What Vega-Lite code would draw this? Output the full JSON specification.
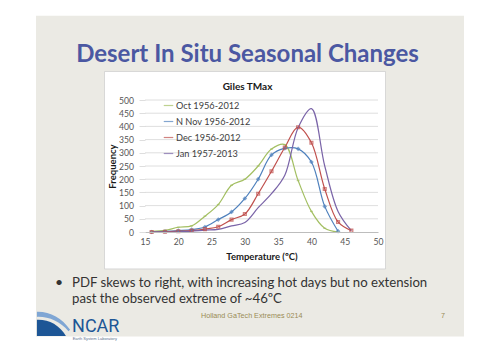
{
  "$schema": "https://vega.github.io/schema/vega-lite/v6.json",
  "width": 233,
  "height": 132,
  "autosize": {"type": "none"},
  "padding": {"left": 145, "top": 100, "right": 122, "bottom": 121},
  "background": "#ffffff",
  "title": {
    "text": "Desert In Situ Seasonal Changes",
    "subtitle": "Giles TMax",
    "font": "Lato",
    "fontSize": 24,
    "fontWeight": "bold",
    "color": "#4b58a2",
    "subtitleFont": "Lato",
    "subtitleFontSize": 10,
    "subtitleFontWeight": "bold",
    "subtitleColor": "#1a1a1a",
    "subtitlePadding": 15,
    "offset": -76,
    "frame": "group",
    "dx": -14,
    "anchor": "middle"
  },
  "config": {
    "font": "Lato",
    "axis": {
      "labelFont": "Lato",
      "labelFontSize": 8.6,
      "labelColor": "#555555",
      "labelOverlap": false,
      "labelFlush": false,
      "titleFont": "Lato",
      "titleFontSize": 9.5,
      "titleFontWeight": "bold",
      "titleColor": "#1a1a1a",
      "domainColor": "#bdbdbd",
      "tickColor": "#d6d6d6"
    },
    "view": {"stroke": null}
  },
  "datasets": {
    "gridlines": [
      {"level": 50}, {"level": 100}, {"level": 150}, {"level": 200}, {"level": 250},
      {"level": 300}, {"level": 350}, {"level": 400}, {"level": 450}, {"level": 500}
    ]
  },
  "data": {
    "values": [
      {"series": "Oct 1956-2012", "temp": 16, "freq": 2},
      {"series": "Oct 1956-2012", "temp": 18, "freq": 6},
      {"series": "Oct 1956-2012", "temp": 20, "freq": 18},
      {"series": "Oct 1956-2012", "temp": 22, "freq": 23},
      {"series": "Oct 1956-2012", "temp": 24, "freq": 60},
      {"series": "Oct 1956-2012", "temp": 26, "freq": 104},
      {"series": "Oct 1956-2012", "temp": 28, "freq": 177},
      {"series": "Oct 1956-2012", "temp": 30, "freq": 200},
      {"series": "Oct 1956-2012", "temp": 32, "freq": 250},
      {"series": "Oct 1956-2012", "temp": 34, "freq": 314},
      {"series": "Oct 1956-2012", "temp": 36, "freq": 331},
      {"series": "Oct 1956-2012", "temp": 38, "freq": 195},
      {"series": "Oct 1956-2012", "temp": 40, "freq": 78},
      {"series": "Oct 1956-2012", "temp": 42, "freq": 14},
      {"series": "Oct 1956-2012", "temp": 44, "freq": 0},
      {"series": "N Nov 1956-2012", "temp": 16, "freq": 0},
      {"series": "N Nov 1956-2012", "temp": 18, "freq": 2},
      {"series": "N Nov 1956-2012", "temp": 20, "freq": 5},
      {"series": "N Nov 1956-2012", "temp": 22, "freq": 9},
      {"series": "N Nov 1956-2012", "temp": 24, "freq": 19},
      {"series": "N Nov 1956-2012", "temp": 26, "freq": 47},
      {"series": "N Nov 1956-2012", "temp": 28, "freq": 76},
      {"series": "N Nov 1956-2012", "temp": 30, "freq": 127},
      {"series": "N Nov 1956-2012", "temp": 32, "freq": 200},
      {"series": "N Nov 1956-2012", "temp": 34, "freq": 292},
      {"series": "N Nov 1956-2012", "temp": 36, "freq": 317},
      {"series": "N Nov 1956-2012", "temp": 38, "freq": 315},
      {"series": "N Nov 1956-2012", "temp": 40, "freq": 265},
      {"series": "N Nov 1956-2012", "temp": 42, "freq": 97},
      {"series": "N Nov 1956-2012", "temp": 44, "freq": 3},
      {"series": "Dec 1956-2012", "temp": 16, "freq": 0},
      {"series": "Dec 1956-2012", "temp": 18, "freq": 1},
      {"series": "Dec 1956-2012", "temp": 20, "freq": 3},
      {"series": "Dec 1956-2012", "temp": 22, "freq": 5},
      {"series": "Dec 1956-2012", "temp": 24, "freq": 11},
      {"series": "Dec 1956-2012", "temp": 26, "freq": 20},
      {"series": "Dec 1956-2012", "temp": 28, "freq": 47},
      {"series": "Dec 1956-2012", "temp": 30, "freq": 68},
      {"series": "Dec 1956-2012", "temp": 32, "freq": 145},
      {"series": "Dec 1956-2012", "temp": 34, "freq": 230},
      {"series": "Dec 1956-2012", "temp": 36, "freq": 320},
      {"series": "Dec 1956-2012", "temp": 38, "freq": 397},
      {"series": "Dec 1956-2012", "temp": 40, "freq": 338},
      {"series": "Dec 1956-2012", "temp": 42, "freq": 163},
      {"series": "Dec 1956-2012", "temp": 44, "freq": 38},
      {"series": "Dec 1956-2012", "temp": 46, "freq": 5},
      {"series": "Jan 1957-2013", "temp": 16, "freq": 0},
      {"series": "Jan 1957-2013", "temp": 18, "freq": 0},
      {"series": "Jan 1957-2013", "temp": 20, "freq": 1},
      {"series": "Jan 1957-2013", "temp": 22, "freq": 3},
      {"series": "Jan 1957-2013", "temp": 24, "freq": 7},
      {"series": "Jan 1957-2013", "temp": 26, "freq": 10},
      {"series": "Jan 1957-2013", "temp": 28, "freq": 23},
      {"series": "Jan 1957-2013", "temp": 30, "freq": 36},
      {"series": "Jan 1957-2013", "temp": 32, "freq": 92},
      {"series": "Jan 1957-2013", "temp": 34, "freq": 145},
      {"series": "Jan 1957-2013", "temp": 36, "freq": 215},
      {"series": "Jan 1957-2013", "temp": 38, "freq": 395},
      {"series": "Jan 1957-2013", "temp": 40, "freq": 467},
      {"series": "Jan 1957-2013", "temp": 42, "freq": 250},
      {"series": "Jan 1957-2013", "temp": 44, "freq": 78},
      {"series": "Jan 1957-2013", "temp": 46, "freq": 5}
    ]
  },
  "layer": [
    {
      "data": {"values": [{}]},
      "mark": {"type": "rect", "fill": "#ebeae4"},
      "encoding": {
        "x": {
          "datum": -1.37,
          "type": "quantitative",
          "scale": {"domain": [15, 50], "nice": false},
          "axis": {"values": [15, 20, 25, 30, 35, 40, 45, 50], "tickCount": 8, "labelOverlap": false, "grid": false, "ticks": false, "title": "Temperature (ºC)", "titlePadding": 6, "labelPadding": 5, "zindex": 2}
        },
        "x2": {"datum": 62.92},
        "y": {
          "datum": 819,
          "type": "quantitative",
          "scale": {"domain": [0, 500], "nice": false},
          "axis": {"values": [0, 50, 100, 150, 200, 250, 300, 350, 400, 450, 500], "tickCount": 11, "labelOverlap": false, "grid": false, "domain": false, "ticks": true, "tickSize": 6, "tickWidth": 0.8, "title": "Frequency", "titlePadding": 1, "labelPadding": 5.5, "zindex": 1}
        },
        "y2": {"datum": -396}
      }
    },
    {
      "data": {"values": [{}]},
      "mark": {"type": "rect", "fill": "#ffffff", "stroke": "#cfcfcf", "strokeWidth": 0.8},
      "encoding": {
        "x": {"datum": 8.92, "type": "quantitative"},
        "x2": {"datum": 51.13},
        "y": {"datum": 608, "type": "quantitative"},
        "y2": {"datum": -140}
      }
    },
    {
      "data": {"name": "gridlines"},
      "mark": {"type": "rule", "color": "#d6d6d6", "strokeWidth": 0.8},
      "encoding": {"y": {"field": "level", "type": "quantitative"}}
    },
    {
      "mark": {"type": "line", "interpolate": "catmull-rom", "strokeWidth": 1.2},
      "encoding": {
        "x": {
          "field": "temp",
          "type": "quantitative",
          "axis": {"values": [15, 20, 25, 30, 35, 40, 45, 50], "tickCount": 8, "labelOverlap": false, "grid": false, "ticks": false, "title": "Temperature (ºC)", "titlePadding": 6, "labelPadding": 5, "zindex": 2}
        },
        "y": {
          "field": "freq",
          "type": "quantitative",
          "axis": {"values": [0, 50, 100, 150, 200, 250, 300, 350, 400, 450, 500], "tickCount": 11, "labelOverlap": false, "grid": false, "domain": false, "ticks": true, "tickSize": 6, "tickWidth": 0.8, "title": "Frequency", "titlePadding": 1, "labelPadding": 5.5, "zindex": 1}
        },
        "color": {
          "field": "series",
          "type": "nominal",
          "sort": ["Oct 1956-2012", "N Nov 1956-2012", "Dec 1956-2012", "Jan 1957-2013"],
          "scale": {
            "domain": ["Oct 1956-2012", "N Nov 1956-2012", "Dec 1956-2012", "Jan 1957-2013"],
            "range": ["#a3bf62", "#4f81bd", "#c0504d", "#7a64a8"]
          },
          "legend": {
            "title": null,
            "orient": "none",
            "legendX": 18,
            "legendY": 0,
            "symbolType": "stroke",
            "symbolSize": 90,
            "symbolStrokeWidth": 1.2,
            "labelFont": "Lato",
            "labelFontSize": 9.2,
            "labelColor": "#404040",
            "labelOffset": 2,
            "rowPadding": 5
          }
        }
      }
    },
    {
      "transform": [{"filter": "datum.series !== 'Jan 1957-2013'"}],
      "mark": {"type": "point", "filled": false, "strokeWidth": 1.3, "size": 8},
      "encoding": {
        "x": {"field": "temp", "type": "quantitative"},
        "y": {"field": "freq", "type": "quantitative"},
        "color": {"field": "series", "type": "nominal"},
        "shape": {
          "field": "series",
          "type": "nominal",
          "scale": {
            "domain": ["Oct 1956-2012", "N Nov 1956-2012", "Dec 1956-2012"],
            "range": ["stroke", "diamond", "square"]
          },
          "legend": null
        }
      }
    },
    {
      "data": {"values": [{}]},
      "mark": {"type": "text", "text": "•", "font": "Lato", "fontSize": 14, "color": "#333333", "align": "left", "baseline": "alphabetic"},
      "encoding": {"x": {"datum": 1.48, "type": "quantitative"}, "y": {"datum": -208, "type": "quantitative"}}
    },
    {
      "data": {"values": [{}]},
      "mark": {
        "type": "text",
        "text": ["PDF skews to right, with increasing hot days but no extension", "past the observed extreme of ~46ºC"],
        "font": "Lato", "fontSize": 13.2, "color": "#333333", "align": "left", "baseline": "alphabetic", "lineHeight": 16
      },
      "encoding": {"x": {"datum": 4.04, "type": "quantitative"}, "y": {"datum": -208, "type": "quantitative"}}
    },
    {
      "data": {"values": [{}]},
      "mark": {"type": "text", "text": "Holland GaTech Extremes 0214", "font": "Liberation Sans", "fontSize": 7.2, "color": "#9a8a55", "align": "left", "baseline": "alphabetic"},
      "encoding": {"x": {"datum": 23.41, "type": "quantitative"}, "y": {"datum": -326, "type": "quantitative"}}
    },
    {
      "data": {"values": [{}]},
      "mark": {"type": "text", "text": "7", "font": "Liberation Sans", "fontSize": 7.2, "color": "#9a8a55", "align": "left", "baseline": "alphabetic"},
      "encoding": {"x": {"datum": 59.46, "type": "quantitative"}, "y": {"datum": -326, "type": "quantitative"}}
    },
    {
      "data": {"values": [{}]},
      "mark": {
        "type": "point", "filled": true, "size": 1100, "color": "#1d5696", "opacity": 1,
        "shape": "M -1 -0.25 C -0.3 -0.28 0.35 0.05 0.75 0.73 L -1 0.73 Z"
      },
      "encoding": {"x": {"datum": 1.26, "type": "quantitative"}, "y": {"datum": -348, "type": "quantitative"}}
    },
    {
      "data": {"values": [{}]},
      "mark": {
        "type": "point", "filled": true, "size": 1100, "color": "#7fa6d4", "opacity": 1,
        "shape": "M -1 -0.73 C -0.2 -0.75 0.5 -0.35 1 0.35 L 0.9 0.45 C 0.4 -0.15 -0.3 -0.45 -1 -0.42 Z"
      },
      "encoding": {"x": {"datum": 1.26, "type": "quantitative"}, "y": {"datum": -348, "type": "quantitative"}}
    },
    {
      "data": {"values": [{}]},
      "mark": {"type": "text", "text": "NCAR", "font": "Roboto", "fontSize": 18, "color": "#1d5696", "align": "left", "baseline": "alphabetic"},
      "encoding": {"x": {"datum": 4.04, "type": "quantitative"}, "y": {"datum": -379, "type": "quantitative"}}
    },
    {
      "data": {"values": [{}]},
      "mark": {"type": "text", "text": "Earth System Laboratory", "font": "Liberation Sans", "fontSize": 4, "color": "#5a6f8f", "align": "left", "baseline": "alphabetic"},
      "encoding": {"x": {"datum": 4.13, "type": "quantitative"}, "y": {"datum": -409, "type": "quantitative"}}
    }
  ]
}
